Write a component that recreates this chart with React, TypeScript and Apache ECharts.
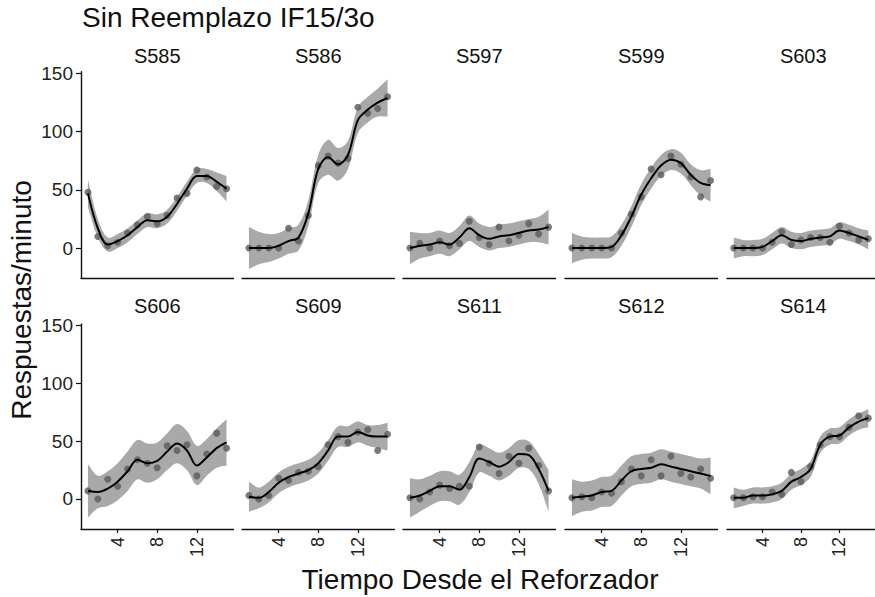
import React, { useEffect, useRef } from "react";
import * as echarts from "echarts";

const TITLE = "Sin Reemplazo IF15/3o";
const X_TITLE = "Tiempo Desde el Reforzador";
const Y_TITLE = "Respuestas/minuto";

const SUBJECTS = ["S585", "S586", "S597", "S599", "S603", "S606", "S609", "S611", "S612", "S614"];
const TIME = [1, 2, 3, 4, 5, 6, 7, 8, 9, 10, 11, 12, 13, 14, 15];
const X_TICKS = [4, 8, 12];
const Y_TICKS = [0, 50, 100, 150];

// observed points
const S585_PTS = [48, 10, 2, 5, 13, 20, 27, 21, 28, 43, 47, 67, 61, 53, 51];
const S586_PTS = [0, 0, 0, 0, 17, 6, 28, 71, 79, 73, 77, 121, 116, 120, 130];
const S597_PTS = [0, 4, 0, 6, 2, 4, 23, 9, 3, 18, 6, 11, 21, 12, 18];
const S599_PTS = [0, 0, 0, 0, 0, 13, 29, 44, 68, 63, 79, 72, 61, 44, 58];
const S603_PTS = [0, 0, 0, 0, 5, 14, 3, 7, 9, 9, 5, 19, 13, 7, 8];
const S606_PTS = [7, 0, 17, 11, 26, 34, 31, 27, 46, 42, 47, 20, 39, 57, 44];
const S609_PTS = [3, 0, 3, 18, 16, 23, 24, 28, 47, 54, 49, 58, 60, 42, 56];
const S611_PTS = [1, 0, 6, 12, 9, 11, 11, 45, 31, 22, 37, 31, 44, 29, 7];
const S612_PTS = [1, 2, 1, 6, 5, 15, 26, 20, 34, 20, 37, 22, 19, 26, 18];
const S614_PTS = [1, 1, 2, 2, 6, 4, 23, 15, 28, 47, 54, 54, 62, 72, 70];

// smoothed fit
const S585_FIT = [47, 17, 3, 6, 11, 18, 24, 23, 27, 38, 51, 62, 62, 57, 51];
const S586_FIT = [0, 0, 0, 2, 6, 9, 30, 68, 78, 72, 80, 110, 119, 125, 129];
const S597_FIT = [0, 2, 3, 5, 3, 9, 17, 11, 8, 10, 11, 13, 15, 16, 18];
const S599_FIT = [0, 0, 0, 0, 1, 11, 27, 46, 60, 71, 76, 73, 63, 56, 54];
const S603_FIT = [0, 0, 0, 1, 6, 11, 7, 6, 8, 9, 10, 15, 13, 10, 7];
const S606_FIT = [7, 6, 9, 15, 24, 34, 31, 33, 41, 48, 42, 29, 36, 44, 49];
const S609_FIT = [2, 1, 6, 14, 19, 22, 25, 31, 42, 54, 54, 58, 55, 54, 54];
const S611_FIT = [1, 3, 7, 11, 11, 8, 19, 35, 32, 28, 32, 39, 38, 26, 7];
const S612_FIT = [1, 2, 3, 6, 7, 16, 24, 26, 27, 30, 28, 26, 24, 22, 20];
const S614_FIT = [1, 1, 3, 3, 4, 7, 15, 19, 26, 47, 54, 55, 62, 67, 70];

// half-width of the confidence band
const S585_SE = [12, 8, 6, 6, 6, 6, 6, 6, 6, 6, 6, 6, 6, 8, 11];
const S586_SE = [18, 14, 12, 11, 11, 11, 11, 12, 15, 14, 12, 11, 11, 12, 16];
const S597_SE = [14, 11, 10, 10, 10, 10, 11, 10, 10, 10, 10, 10, 10, 11, 15];
const S599_SE = [13, 10, 9, 9, 9, 9, 9, 9, 9, 9, 9, 9, 9, 11, 14];
const S603_SE = [9, 7, 7, 7, 7, 7, 7, 7, 7, 7, 7, 7, 7, 7, 8];
const S606_SE = [23, 14, 15, 16, 17, 17, 17, 16, 16, 17, 17, 17, 16, 17, 20];
const S609_SE = [13, 9, 9, 9, 9, 9, 9, 9, 9, 9, 9, 9, 9, 10, 12];
const S611_SE = [17, 14, 13, 13, 13, 13, 13, 12, 12, 12, 12, 12, 12, 13, 18];
const S612_SE = [16, 13, 13, 13, 13, 13, 13, 13, 13, 13, 13, 13, 13, 13, 16];
const S614_SE = [9, 7, 7, 7, 7, 7, 7, 7, 7, 7, 7, 7, 7, 7, 8];

const PTS = [S585_PTS, S586_PTS, S597_PTS, S599_PTS, S603_PTS, S606_PTS, S609_PTS, S611_PTS, S612_PTS, S614_PTS];
const FIT = [S585_FIT, S586_FIT, S597_FIT, S599_FIT, S603_FIT, S606_FIT, S609_FIT, S611_FIT, S612_FIT, S614_FIT];
const SE = [S585_SE, S586_SE, S597_SE, S599_SE, S603_SE, S606_SE, S609_SE, S611_SE, S612_SE, S614_SE];

const FONT = "'Liberation Sans', Arial, Helvetica, sans-serif";
const PANEL_LEFTS = [81, 242, 403, 565, 727];
const PANEL_W = 152.5;
const ROW_TOPS = [71.8, 324];
const ROW_H = [206.5, 205];
const X_MIN = 0.3;
const X_MAX = 15.7;
const Y_MIN = -26;
const Y_MAX = 151.5;
const BAND = "#a9a9a9";
const POINT = "#5a5a5a";
const SMOOTH = 0.35;

type P = number[];
function dist(a: P, b: P) {
  return Math.sqrt((a[0] - b[0]) ** 2 + (a[1] - b[1]) ** 2);
}
function smoothSeg(ctx: any, pts: P[], smooth: number, move: boolean) {
  const n = pts.length;
  if (move) ctx.moveTo(pts[0][0], pts[0][1]);
  else ctx.lineTo(pts[0][0], pts[0][1]);
  for (let i = 0; i < n - 1; i++) {
    const p0 = pts[i];
    const p1 = pts[i + 1];
    const prev = i > 0 ? pts[i - 1] : p0;
    const next2 = i + 2 < n ? pts[i + 2] : p1;
    const la = dist(prev, p0);
    const lb = dist(p0, p1);
    const r0 = la + lb > 0 ? lb / (la + lb) : 0;
    const c1x = p0[0] + (p1[0] - prev[0]) * smooth * r0;
    const c1y = p0[1] + (p1[1] - prev[1]) * smooth * r0;
    const lc = dist(p1, next2);
    const r1 = lb + lc > 0 ? lb / (lb + lc) : 0;
    const c2x = p1[0] - (next2[0] - p0[0]) * smooth * r1;
    const c2y = p1[1] - (next2[1] - p0[1]) * smooth * r1;
    ctx.bezierCurveTo(c1x, c1y, c2x, c2y, p1[0], p1[1]);
  }
}

echarts.graphic.registerShape(
  "band",
  echarts.graphic.extendShape({
    shape: { up: [] as P[], lo: [] as P[] },
    buildPath(ctx: any, shape: any) {
      const up: P[] = shape.up;
      const lo: P[] = shape.lo;
      if (!up.length) return;
      smoothSeg(ctx, up, SMOOTH, true);
      smoothSeg(ctx, lo.slice().reverse(), SMOOTH, false);
      ctx.closePath();
    },
  })
);

function buildOption() {
  const grid: any[] = [];
  const xAxis: any[] = [];
  const yAxis: any[] = [];
  const series: any[] = [];
  const graphic: any[] = [];

  SUBJECTS.forEach((name, i) => {
    const row = i < 5 ? 0 : 1;
    const col = i % 5;
    grid.push({
      left: PANEL_LEFTS[col],
      top: ROW_TOPS[row],
      width: PANEL_W,
      height: ROW_H[row],
      containLabel: false,
    });
    const bottom = row === 1;
    xAxis.push({
      type: "value",
      gridIndex: i,
      min: X_MIN,
      max: X_MAX,
      axisLine: { show: true, onZero: false, lineStyle: { color: "#111", width: 1.4 } },
      axisTick: { show: bottom, customValues: X_TICKS, length: 4, lineStyle: { color: "#111", width: 1.2 } },
      axisLabel: {
        show: bottom,
        customValues: X_TICKS,
        rotate: 90,
        margin: 8,
        fontSize: 18,
        fontFamily: FONT,
        color: "#222",
      },
      splitLine: { show: false },
    });
    const left = col === 0;
    yAxis.push({
      type: "value",
      gridIndex: i,
      min: Y_MIN,
      max: Y_MAX,
      axisLine: { show: left, onZero: false, lineStyle: { color: "#111", width: 1.4 } },
      axisTick: { show: left, customValues: Y_TICKS, length: 5, lineStyle: { color: "#111", width: 1.2 } },
      axisLabel: {
        show: left,
        customValues: Y_TICKS,
        margin: 8,
        fontSize: 19,
        fontFamily: FONT,
        color: "#222",
      },
      splitLine: { show: false },
    });

    const fit = FIT[i];
    const se = SE[i];
    const pts = PTS[i];
    series.push({
      type: "custom",
      xAxisIndex: i,
      yAxisIndex: i,
      data: [0],
      silent: true,
      z: 1,
      renderItem: (params: any, api: any) => {
        const up = TIME.map((t, k) => api.coord([t, fit[k] + se[k]]));
        const lo = TIME.map((t, k) => api.coord([t, fit[k] - se[k]]));
        return { type: "band", shape: { up, lo }, style: { fill: BAND } };
      },
    });
    series.push({
      type: "scatter",
      xAxisIndex: i,
      yAxisIndex: i,
      data: TIME.map((t, k) => [t, pts[k]]),
      symbolSize: 7,
      itemStyle: { color: POINT },
      z: 2,
    });
    series.push({
      type: "line",
      xAxisIndex: i,
      yAxisIndex: i,
      data: TIME.map((t, k) => [t, fit[k]]),
      symbol: "none",
      smooth: SMOOTH,
      lineStyle: { color: "#000", width: 2 },
      z: 3,
    });

    graphic.push({
      type: "text",
      x: PANEL_LEFTS[col] + PANEL_W / 2,
      y: row === 0 ? 56 : 305.5,
      style: {
        text: name,
        fontSize: 20,
        fontFamily: FONT,
        fill: "#111",
        align: "center",
        verticalAlign: "middle",
      },
    });
  });

  graphic.push({
    type: "text",
    x: 82,
    y: 17,
    style: { text: TITLE, fontSize: 28, fontFamily: FONT, fill: "#111", align: "left", verticalAlign: "middle" },
  });
  graphic.push({
    type: "text",
    x: 480,
    y: 579,
    style: { text: X_TITLE, fontSize: 28, fontFamily: FONT, fill: "#111", align: "center", verticalAlign: "middle" },
  });
  graphic.push({
    type: "text",
    x: 21,
    y: 300,
    rotation: Math.PI / 2,
    style: { text: Y_TITLE, fontSize: 28, fontFamily: FONT, fill: "#111", align: "center", verticalAlign: "middle" },
  });

  return {
    animation: false,
    backgroundColor: "#fff",
    grid,
    xAxis,
    yAxis,
    series,
    graphic,
  };
}

export default function App() {
  const ref = useRef<HTMLDivElement>(null);
  useEffect(() => {
    if (!ref.current) return;
    const chart = echarts.init(ref.current, undefined, { renderer: "svg" });
    chart.setOption(buildOption() as any);
    return () => chart.dispose();
  }, []);
  return (
    <div
      ref={ref}
      style={{ position: "fixed", left: 0, top: 0, width: 875, height: 597, background: "#fff" }}
    />
  );
}
